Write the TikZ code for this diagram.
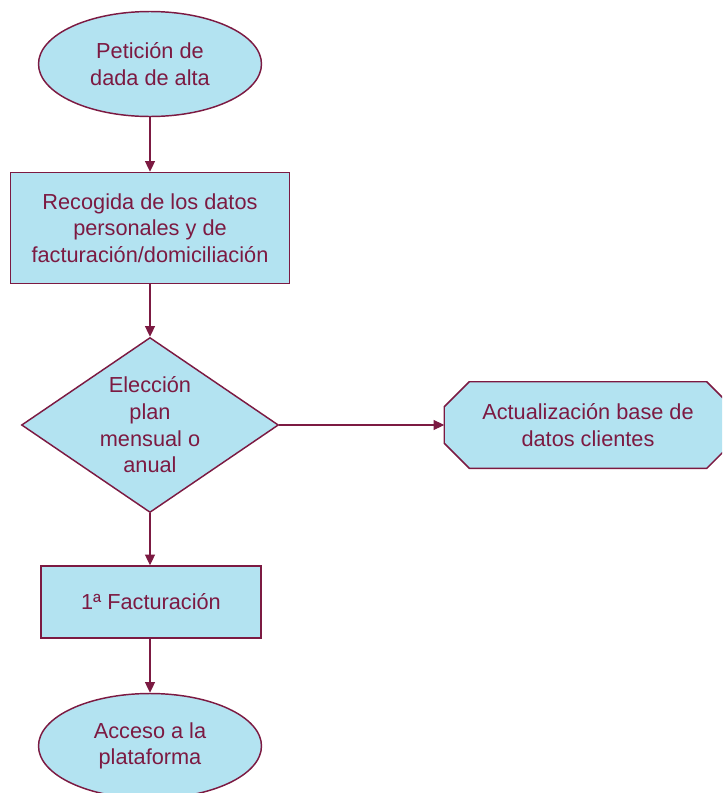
\documentclass[tikz,border=0pt]{standalone}
\usepackage{fontspec}
\setmainfont{Liberation Sans}
\usetikzlibrary{arrows.meta}
\usetikzlibrary{shapes.geometric,calc}

\definecolor{celeste}{RGB}{179,227,241}
\definecolor{granate}{RGB}{124,26,66}

\begin{document}
\begin{tikzpicture}[x=0.75pt, y=-0.75pt, >={Triangle[width=7.5pt,length=8pt]},
    every node/.style={text=granate, font=\fontsize{16.3}{20}\selectfont, align=center},
    caja/.style={draw=granate, fill=celeste, line width=1.1pt},
    terminal/.style={caja, ellipse, minimum width=167.25pt, minimum height=78.75pt, inner sep=0pt},
    proceso/.style={caja, rectangle, inner sep=0pt},
    decision/.style={caja, diamond, minimum width=192.75pt, minimum height=131.25pt, inner sep=0pt},
    octagono/.style={rectangle, minimum width=215.25pt, minimum height=64.5pt, inner sep=0pt},
    flecha/.style={->, draw=granate, line width=0.8pt}]

    \useasboundingbox (0,0) rectangle (722,793);
    \clip (0,0) rectangle (722,793);

    \node[terminal] (peticion) at (150,64) {Petición de\\dada de alta};
    \node[proceso, minimum width=209.25pt, minimum height=83.25pt] (datos) at (150,228)
        {Recogida de los datos\\personales y de\\facturación/domiciliación};
    \node[decision] (plan) at (150,425) {};
    \node (planlbl) at (plan) {Elección\\plan\\mensual o\\anual};

    % octagono a mano, detras del texto
    \node[octagono] (base) at (588,425) {};
    \draw[caja] ($(base.north west)+(25,0)$) -- ($(base.north east)+(-25,0)$)
        -- ($(base.north east)+(0,25)$) -- ($(base.south east)+(0,-25)$)
        -- ($(base.south east)+(-25,0)$) -- ($(base.south west)+(25,0)$)
        -- ($(base.south west)+(0,-25)$) -- ($(base.north west)+(0,25)$) -- cycle;
    \node (baselbl) at (base) {Actualización base de\\datos clientes};

    \node[proceso, minimum width=165pt, minimum height=54pt] (factura) at (151,602) {1ª Facturación};
    \node[terminal] (acceso) at (150,746) {Acceso a la\\plataforma};

    \draw[flecha] (peticion) -- (datos);
    \draw[flecha] (datos) -- (plan);
    \draw[flecha] (plan) -- (base);
    \draw[flecha] (plan) -- (plan|-factura.north);
    \draw[flecha] (factura.south-|acceso) -- (acceso);

\end{tikzpicture}
\end{document}
